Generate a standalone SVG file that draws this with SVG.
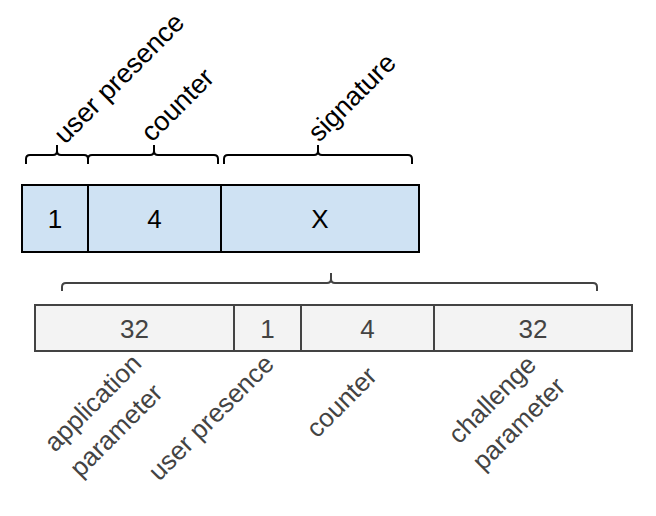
<svg xmlns="http://www.w3.org/2000/svg" width="656" height="516" viewBox="0 0 656 516">
<style>
.top{fill:#cfe2f3;stroke:#000;stroke-width:2}
.bot{fill:#f3f3f3;stroke:#434343;stroke-width:2}
.tnum{font-family:"Liberation Sans",Arial,sans-serif;font-size:26px;fill:#000;text-anchor:middle}
.bnum{font-family:"Liberation Sans",Arial,sans-serif;font-size:26px;fill:#434343;text-anchor:middle}
.tlab{font-family:"Liberation Sans",Arial,sans-serif;font-size:27px;fill:#000}
.blab{font-family:"Liberation Sans",Arial,sans-serif;font-size:26px;fill:#434343}
.brace{fill:none;stroke:#000;stroke-width:2}
.bbrace{fill:none;stroke:#434343;stroke-width:2}
</style>
<rect width="656" height="516" fill="#fff"/>
<g id="connectors">
<path class="brace" d="M26,164 V159 Q26,155 30,155 H53 Q57,155 57,151 V145 M57,151 Q57,155 61,155 H84 Q88,155 88,159 V164"/>
<path class="brace" d="M88,164 V159 Q88,155 92,155 H150 Q154,155 154,151 V145 M154,151 Q154,155 158,155 H214 Q218,155 218,159 V164"/>
<path class="brace" d="M224,164 V159 Q224,155 228,155 H314 Q318,155 318,151 V145 M318,151 Q318,155 322,155 H408 Q412,155 412,159 V164"/>
<path class="bbrace" d="M62,291 V287 Q62,283 66,283 H327 Q331,283 331,279 V273 M331,279 Q331,283 335,283 H593 Q597,283 597,287 V291"/>
</g>
<g id="sig-user-presence"><rect class="top" x="22" y="185" width="66" height="67"/><text class="tnum" x="55" y="228">1</text></g>
<g id="sig-counter"><rect class="top" x="88" y="185" width="133" height="67"/><text class="tnum" x="154.5" y="228">4</text></g>
<g id="sig-signature"><rect class="top" x="221" y="185" width="198" height="67"/><text class="tnum" x="320" y="228">X</text></g>
<g id="label-user-presence"><text class="tlab" transform="translate(65,145) rotate(-45)">user presence</text></g>
<g id="label-counter"><text class="tlab" transform="translate(152,143) rotate(-45)">counter</text></g>
<g id="label-signature"><text class="tlab" transform="translate(319,143) rotate(-45)">signature</text></g>
<g id="msg-application"><rect class="bot" x="35" y="305" width="199" height="46"/><text class="bnum" x="134.5" y="337.5">32</text></g>
<g id="msg-user-presence"><rect class="bot" x="234" y="305" width="67" height="46"/><text class="bnum" x="267.5" y="337.5">1</text></g>
<g id="msg-counter"><rect class="bot" x="301" y="305" width="133" height="46"/><text class="bnum" x="367.5" y="337.5">4</text></g>
<g id="msg-challenge"><rect class="bot" x="434" y="305" width="198" height="46"/><text class="bnum" x="533" y="337.5">32</text></g>
<g id="blabel-application"><text class="blab" transform="translate(55,453) rotate(-45)"><tspan x="0" y="0">application</tspan><tspan x="0" y="36">parameter</tspan></text></g>
<g id="blabel-user-presence"><text class="blab" transform="translate(159,482) rotate(-45)">user presence</text></g>
<g id="blabel-counter"><text class="blab" transform="translate(317,439) rotate(-45)">counter</text></g>
<g id="blabel-challenge"><text class="blab" transform="translate(459,445) rotate(-45)"><tspan x="0" y="0">challenge</tspan><tspan x="-2" y="36">parameter</tspan></text></g>
</svg>
